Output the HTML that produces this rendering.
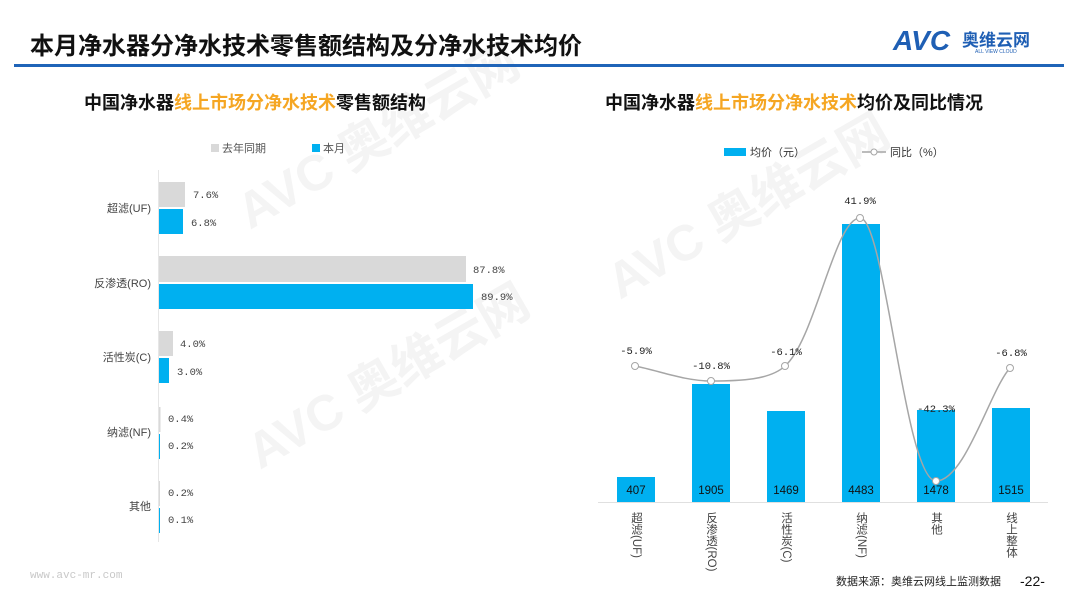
<!DOCTYPE html>
<html><head><meta charset="utf-8"><style>
body{margin:0;width:1080px;height:608px;background:#fff;overflow:hidden;position:relative;font-family:"Liberation Sans","Noto Sans CJK SC",sans-serif;}
.a{position:absolute;white-space:nowrap;}
</style></head><body>
<svg class="a" style="left:0;top:0" width="1080" height="608" font-family="Liberation Sans, Noto Sans CJK SC, sans-serif">
<g fill="#f4f4f4" font-weight="bold">
<text x="0" y="0" font-size="50" transform="translate(250,230) rotate(-30)">AVC 奥维云网</text>
<text x="0" y="0" font-size="50" transform="translate(620,300) rotate(-30)">AVC 奥维云网</text>
<text x="0" y="0" font-size="50" transform="translate(260,470) rotate(-30)">AVC 奥维云网</text>
</g>
<text x="30" y="54" font-size="24" font-weight="bold" fill="#111">本月净水器分净水技术零售额结构及分净水技术均价</text>
<rect x="14" y="64" width="1050" height="3" fill="#1f64b8"/>
<text x="893" y="50" font-size="28" font-weight="bold" fill="#1f5fb4" font-style="italic">AVC</text>
<text x="962" y="46" font-size="17" font-weight="bold" fill="#1f5fb4">奥维云网</text>
<text x="975" y="53" font-size="5" fill="#1f5fb4">ALL VIEW CLOUD</text>
<text x="84" y="109" font-size="18" font-weight="bold" fill="#111">中国净水器<tspan fill="#f5a623">线上市场分净水技术</tspan>零售额结构</text>
<text x="605" y="109" font-size="18" font-weight="bold" fill="#111">中国净水器<tspan fill="#f5a623">线上市场分净水技术</tspan>均价及同比情况</text>
<rect x="211" y="144" width="8" height="8" fill="#d9d9d9"/><text x="222" y="152" font-size="11" fill="#555">去年同期</text>
<rect x="312" y="144" width="8" height="8" fill="#00b0f0"/><text x="323" y="152" font-size="11" fill="#555">本月</text>
<line x1="158.5" y1="170" x2="158.5" y2="542" stroke="#e6e6e6"/>
<g font-size="10.5" fill="#444" font-family="Liberation Mono, monospace">
<rect x="159" y="182" width="26" height="25" fill="#d9d9d9"/><text x="193" y="198">7.6%</text>
<rect x="159" y="209" width="24" height="25" fill="#00b0f0"/><text x="191" y="226">6.8%</text>
<rect x="159" y="256" width="307" height="26" fill="#d9d9d9"/><text x="473" y="273">87.8%</text>
<rect x="159" y="284" width="314" height="25" fill="#00b0f0"/><text x="481" y="300">89.9%</text>
<rect x="159" y="331" width="14" height="25" fill="#d9d9d9"/><text x="180" y="347">4.0%</text>
<rect x="159" y="358" width="10" height="25" fill="#00b0f0"/><text x="177" y="375">3.0%</text>
<rect x="159" y="407" width="1.5" height="25" fill="#d9d9d9"/><text x="168" y="422">0.4%</text>
<rect x="159" y="434" width="1" height="25" fill="#00b0f0"/><text x="168" y="449">0.2%</text>
<rect x="159" y="481" width="1" height="25" fill="#d9d9d9"/><text x="168" y="496">0.2%</text>
<rect x="159" y="508" width="1" height="25" fill="#00b0f0"/><text x="168" y="523">0.1%</text>
</g>
<g font-size="11" fill="#444" text-anchor="end">
<text x="151" y="212">超滤(UF)</text>
<text x="151" y="287">反渗透(RO)</text>
<text x="151" y="361">活性炭(C)</text>
<text x="151" y="436">纳滤(NF)</text>
<text x="151" y="510">其他</text>
</g>
<rect x="724" y="148" width="22" height="8" fill="#00b0f0"/><text x="750" y="156" font-size="11" fill="#333">均价（元）</text>
<line x1="862" y1="152" x2="886" y2="152" stroke="#a6a6a6" stroke-width="1.5"/><circle cx="874" cy="152" r="3" fill="#fff" stroke="#a6a6a6"/>
<text x="890" y="156" font-size="11" fill="#333">同比（%）</text>
<g fill="#00b0f0">
<rect x="617" y="477" width="38" height="25"/>
<rect x="692" y="384" width="38" height="118"/>
<rect x="767" y="411" width="38" height="91"/>
<rect x="842" y="224" width="38" height="278"/>
<rect x="917" y="410" width="38" height="92"/>
<rect x="992" y="408" width="38" height="94"/>
</g>
<line x1="598" y1="502.5" x2="1048" y2="502.5" stroke="#e0e0e0"/>
<g font-size="11.5" fill="#111" text-anchor="middle">
<text x="636" y="494">407</text><text x="711" y="494">1905</text><text x="786" y="494">1469</text>
<text x="861" y="494">4483</text><text x="936" y="494">1478</text><text x="1011" y="494">1515</text>
</g>
<path d="M635,366 C660,371 685,381 711,381 C740,381 770,380 785,366 C815,340 835,218 860,218 C885,218 905,481 936,481 C965,481 990,390 1010,368" fill="none" stroke="#a6a6a6" stroke-width="1.5"/>
<g fill="#fff" stroke="#a6a6a6">
<circle cx="635" cy="366" r="3.5"/><circle cx="711" cy="381" r="3.5"/><circle cx="785" cy="366" r="3.5"/>
<circle cx="860" cy="218" r="3.5"/><circle cx="936" cy="481" r="3.5"/><circle cx="1010" cy="368" r="3.5"/>
</g>
<g font-size="10.5" fill="#222" text-anchor="middle" font-family="Liberation Mono, monospace">
<text x="636" y="354">-5.9%</text><text x="711" y="369">-10.8%</text><text x="786" y="355">-6.1%</text>
<text x="860" y="204">41.9%</text><text x="936" y="412">-42.3%</text><text x="1011" y="356">-6.8%</text>
</g>
<g font-size="11.5" fill="#444">
<text x="636" y="512" style="writing-mode:tb">超滤(UF)</text>
<text x="711" y="512" style="writing-mode:tb">反渗透(RO)</text>
<text x="786" y="512" style="writing-mode:tb">活性炭(C)</text>
<text x="861" y="512" style="writing-mode:tb">纳滤(NF)</text>
<text x="936" y="512" style="writing-mode:tb">其他</text>
<text x="1011" y="512" style="writing-mode:tb">线上整体</text>
</g>
<text x="30" y="578" font-size="11" fill="#c8c8c8" font-family="Liberation Mono, monospace">www.avc-mr.com</text>
<text x="836" y="585" font-size="11" fill="#222">数据来源：奥维云网线上监测数据</text>
<text x="1020" y="586" font-size="14" fill="#111">-22-</text>
</svg>
</body></html>
